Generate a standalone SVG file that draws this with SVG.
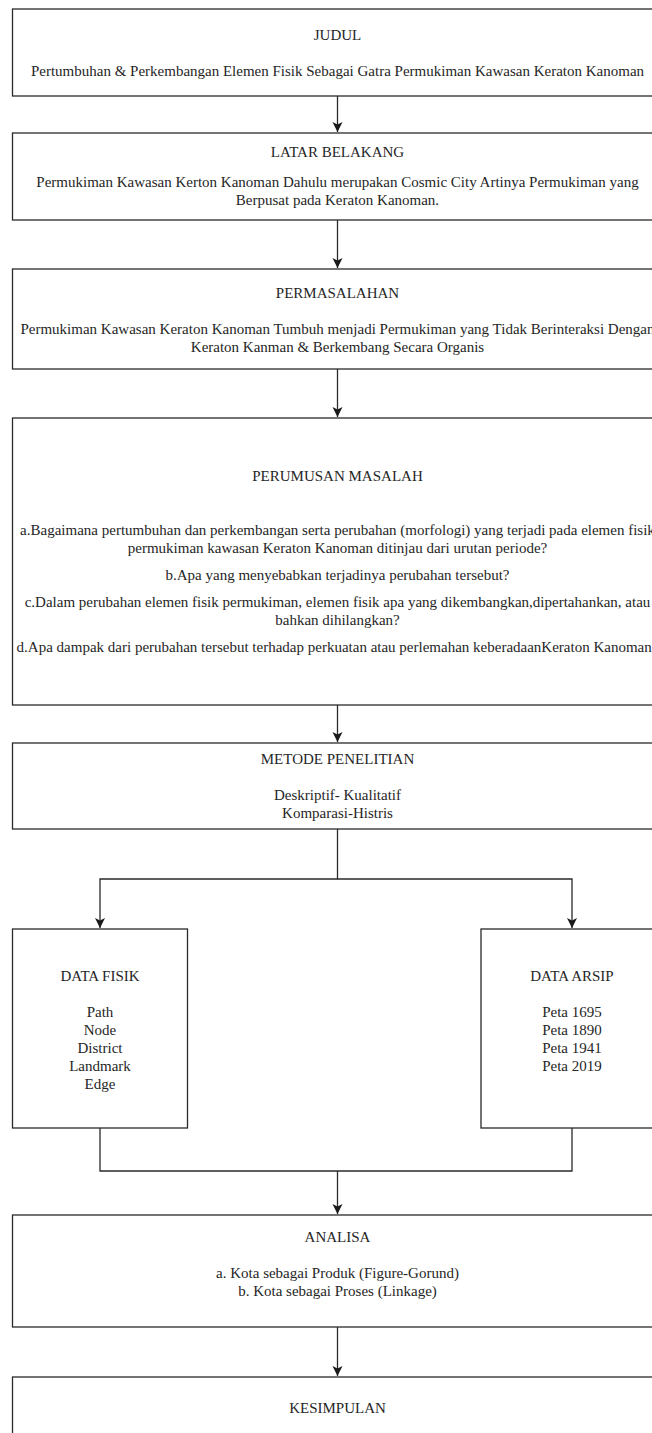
<svg xmlns="http://www.w3.org/2000/svg" width="652" height="1433" viewBox="0 0 652 1433">
<defs>
<style>
.box{fill:#ffffff;stroke:#2a2a2a;stroke-width:1.3}
.t{font-family:"Liberation Serif","Times New Roman",serif;font-size:15px;fill:#262626;text-anchor:middle}
.c{fill:none;stroke:#2a2a2a;stroke-width:1.3}
</style>
<marker id="ah" markerUnits="userSpaceOnUse" markerWidth="10" markerHeight="12" viewBox="0 0 10 12" refX="5" refY="11" orient="auto-start-reverse">
<path d="M0,0 L5,2.5 L10,0 L5,11 Z" fill="#1a1a1a"/>
</marker>
<marker id="a" markerUnits="userSpaceOnUse" markerWidth="10" markerHeight="11" viewBox="0 0 10 11" refX="10" refY="5" orient="auto">
<path d="M0,0 L10,5 L0,10 L2.5,5 Z" fill="#1a1a1a"/>
</marker>
</defs>
<rect width="652" height="1433" fill="#ffffff"/>
<g id="connectors">
<path class="c" d="M337.5,96 V132" marker-end="url(#a)"/>
<path class="c" d="M337.5,220 V268" marker-end="url(#a)"/>
<path class="c" d="M337.5,369 V417" marker-end="url(#a)"/>
<path class="c" d="M337.5,705 V742" marker-end="url(#a)"/>
<path class="c" d="M337.5,829 V879 H100 V928" marker-end="url(#a)"/>
<path class="c" d="M337.5,879 H572 V928" marker-end="url(#a)"/>
<path class="c" d="M100,1128 V1171 H572 V1128"/>
<path class="c" d="M337.5,1171 V1214" marker-end="url(#a)"/>
<path class="c" d="M337.5,1327 V1376" marker-end="url(#a)"/>
</g>
<g id="judul">
<rect class="box" x="12.5" y="9" width="650" height="87"/>
<text class="t" x="337.5" y="40">JUDUL</text>
<text class="t" x="337.5" y="76">Pertumbuhan &amp; Perkembangan Elemen Fisik Sebagai Gatra Permukiman Kawasan Keraton Kanoman</text>
</g>
<g id="latar-belakang">
<rect class="box" x="12.5" y="133" width="650" height="87"/>
<text class="t" x="337.5" y="157">LATAR BELAKANG</text>
<text class="t" x="337.5" y="187">Permukiman Kawasan Kerton Kanoman Dahulu merupakan Cosmic City Artinya Permukiman yang</text>
<text class="t" x="337.5" y="205">Berpusat pada Keraton Kanoman.</text>
</g>
<g id="permasalahan">
<rect class="box" x="12.5" y="269" width="650" height="100"/>
<text class="t" x="337.5" y="298">PERMASALAHAN</text>
<text class="t" x="337.5" y="334">Permukiman Kawasan Keraton Kanoman Tumbuh menjadi Permukiman yang Tidak Berinteraksi Dengan</text>
<text class="t" x="337.5" y="352">Keraton Kanman &amp; Berkembang Secara Organis</text>
</g>
<g id="perumusan-masalah">
<rect class="box" x="12.5" y="418" width="650" height="287"/>
<text class="t" x="337.5" y="481">PERUMUSAN MASALAH</text>
<text class="t" x="337.5" y="535">a.Bagaimana pertumbuhan dan perkembangan serta perubahan (morfologi) yang terjadi pada elemen fisik</text>
<text class="t" x="337.5" y="553">permukiman kawasan Keraton Kanoman ditinjau dari urutan periode?</text>
<text class="t" x="337.5" y="580">b.Apa yang menyebabkan terjadinya perubahan tersebut?</text>
<text class="t" x="337.5" y="607">c.Dalam perubahan elemen fisik permukiman, elemen fisik apa yang dikembangkan,dipertahankan, atau</text>
<text class="t" x="337.5" y="625">bahkan dihilangkan?</text>
<text class="t" x="337.5" y="652">d.Apa dampak dari perubahan tersebut terhadap perkuatan atau perlemahan keberadaanKeraton Kanoman?</text>
</g>
<g id="metode-penelitian">
<rect class="box" x="12.5" y="743" width="650" height="86"/>
<text class="t" x="337.5" y="764">METODE PENELITIAN</text>
<text class="t" x="337.5" y="800">Deskriptif- Kualitatif</text>
<text class="t" x="337.5" y="818">Komparasi-Histris</text>
</g>
<g id="data-fisik">
<rect class="box" x="12.5" y="929" width="175" height="199"/>
<text class="t" x="100" y="981">DATA FISIK</text>
<text class="t" x="100" y="1017">Path</text>
<text class="t" x="100" y="1035">Node</text>
<text class="t" x="100" y="1053">District</text>
<text class="t" x="100" y="1071">Landmark</text>
<text class="t" x="100" y="1089">Edge</text>
</g>
<g id="data-arsip">
<rect class="box" x="481" y="929" width="182" height="199"/>
<text class="t" x="572" y="981">DATA ARSIP</text>
<text class="t" x="572" y="1017">Peta 1695</text>
<text class="t" x="572" y="1035">Peta 1890</text>
<text class="t" x="572" y="1053">Peta 1941</text>
<text class="t" x="572" y="1071">Peta 2019</text>
</g>
<g id="analisa">
<rect class="box" x="12.5" y="1215" width="650" height="112"/>
<text class="t" x="337.5" y="1242">ANALISA</text>
<text class="t" x="337.5" y="1278">a. Kota sebagai Produk (Figure-Gorund)</text>
<text class="t" x="337.5" y="1296">b. Kota sebagai Proses (Linkage)</text>
</g>
<g id="kesimpulan">
<rect class="box" x="12.5" y="1377" width="650" height="80"/>
<text class="t" x="337.5" y="1413">KESIMPULAN</text>
</g>
</svg>
